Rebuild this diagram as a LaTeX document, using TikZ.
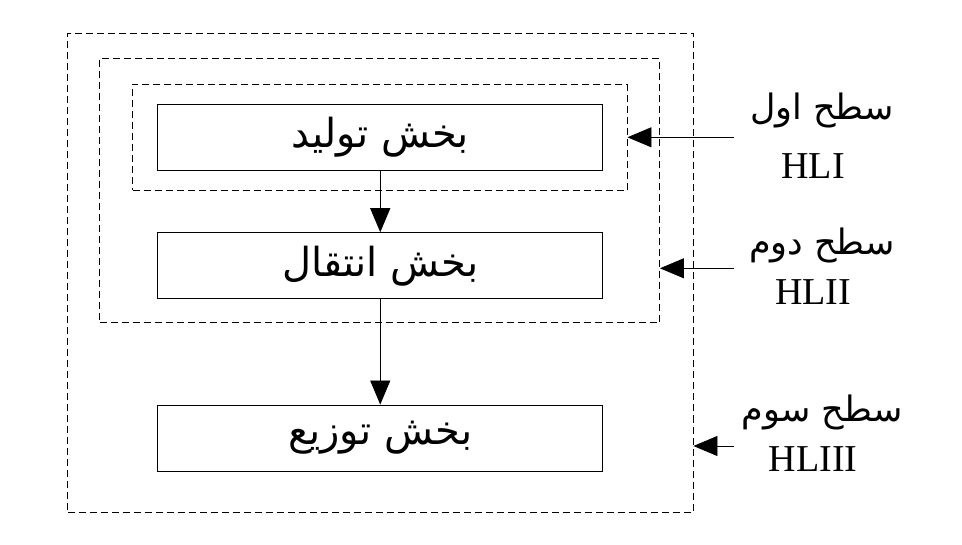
\documentclass[tikz,border=0pt]{standalone}
\usepackage{fontspec}
\setmainfont{Liberation Serif}
\newfontfamily\arabicfont[Script=Arabic]{DejaVu Sans}
\TeXXeTstate=1
\usetikzlibrary{arrows.meta}
\tikzset{
  solidbox/.style={draw, line width=0.9pt, minimum width=445pt, minimum height=66pt, inner sep=0pt,
    font=\arabicfont\fontsize{40}{46}\selectfont},
  dashbox/.style={draw, line width=0.9pt, dash pattern=on 7pt off 4pt, inner sep=0pt},
  arr/.style={line width=0.9pt, -{Triangle[length=24pt,width=20pt]}},
  lab/.style={font=\arabicfont\fontsize{35}{40}\selectfont, inner sep=0pt},
  latin/.style={font=\fontsize{38}{42}\selectfont, inner sep=0pt}
}
\begin{document}
\begin{tikzpicture}[x=1pt,y=-1pt]
\useasboundingbox (0,0) rectangle (962,545);
\node[dashbox, minimum width=625.5pt, minimum height=479pt] (outer) at (380.25,272.5) {};
\node[dashbox, minimum width=560pt, minimum height=264.7pt] (middle) at (379.5,190.6) {};
\node[dashbox, minimum width=494.4pt, minimum height=106pt] (inner) at (379.8,137.3) {};
\node[solidbox] (b1) at (380.25,137.3) {\beginR بخش تولید\endR};
\node[solidbox] (b2) at (380.25,265.7) {\beginR بخش انتقال\endR};
\node[solidbox] (b3) at (380.25,438) {\beginR بخش توزیع\endR};
\draw[arr] (b1.south) -- (b2.north);
\draw[arr] (b2.south) -- (b3.north);
\coordinate (s1) at (734,137.3);
\coordinate (s2) at (734,268.3);
\coordinate (s3) at (734,446);
\draw[arr] (s1) -- (inner.east);
\draw[arr] (s2) -- (s2 -| middle.east);
\draw[arr] (s3) -- (s3 -| outer.east);
\node[lab] (t1) at (822,110) {\beginR سطح اول\endR};
\node[latin] (h1) at (813,166) {HLI};
\node[lab] (t2) at (822,245) {\beginR سطح دوم\endR};
\node[latin] (h2) at (813,292) {HLII};
\node[lab] (t3) at (822,412) {\beginR سطح سوم\endR};
\node[latin] (h3) at (813,459) {HLIII};
\end{tikzpicture}
\end{document}
